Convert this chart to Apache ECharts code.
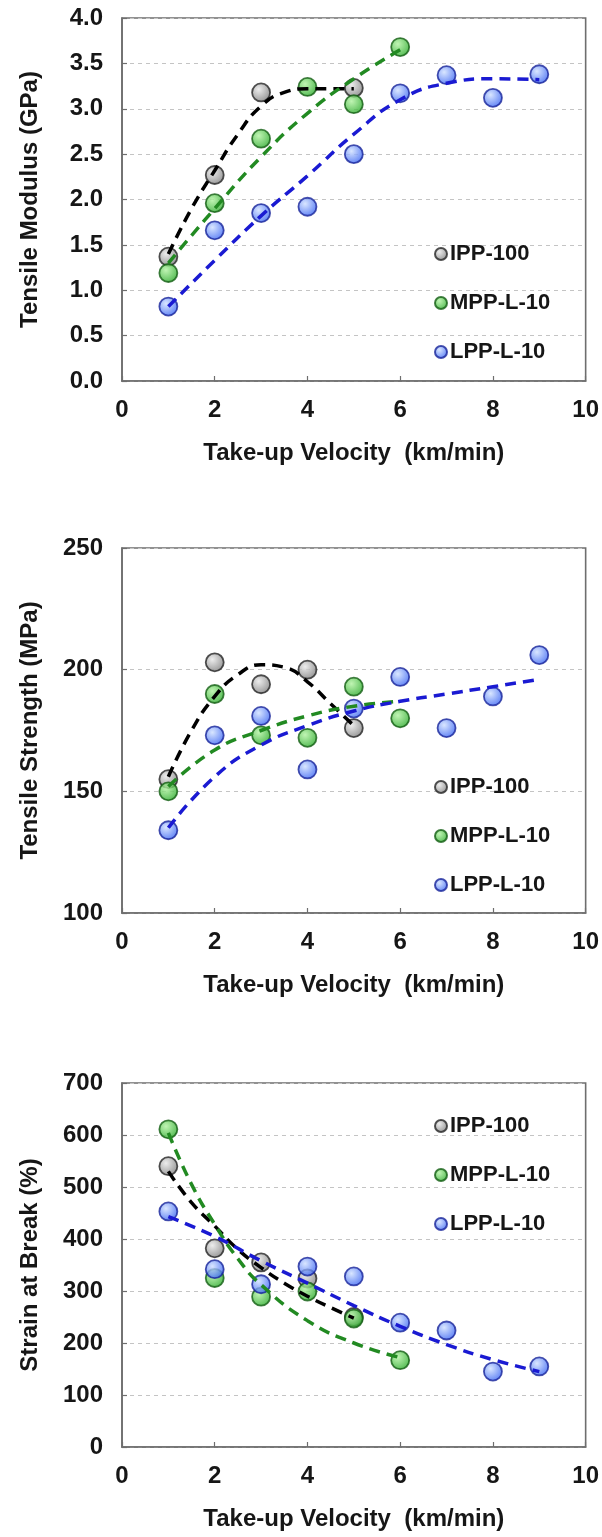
<!DOCTYPE html>
<html>
<head>
<meta charset="utf-8">
<script src="https://cdn.jsdelivr.net/npm/echarts@6/dist/echarts.min.js"></script>
<style>
html,body{margin:0;padding:0;background:#fff;}
#c{width:602px;height:1537px;}
</style>
</head>
<body>
<div id="c"></div>
<script>
// ---------- data ----------
const seriesNames = ['IPP-100', 'MPP-L-10', 'LPP-L-10'];
const xTicks = [0, 2, 4, 6, 8, 10];

// Panel 1: Tensile Modulus (GPa)
const velIPP_mod = [1, 2, 3, 5];
const modIPP = [1.37, 2.27, 3.18, 3.23];
const velMPP_mod = [1, 2, 3, 4, 5, 6];
const modMPP = [1.19, 1.96, 2.67, 3.24, 3.05, 3.68];
const velLPP_mod = [1, 2, 3, 4, 5, 6, 7, 8, 9];
const modLPP = [0.82, 1.66, 1.85, 1.92, 2.50, 3.17, 3.37, 3.12, 3.38];
// dashed trend lines
const trendModIPP_x = [1, 1.5, 2, 2.5, 3, 3.5, 4, 4.5, 5];
const trendModIPP_y = [1.40, 1.90, 2.32, 2.72, 3.03, 3.18, 3.22, 3.22, 3.22];
const trendModMPP_x = [1, 2, 3, 4, 5, 6];
const trendModMPP_y = [1.30, 1.90, 2.47, 2.95, 3.33, 3.65];
const trendModLPP_x = [1, 2, 3, 4, 5, 6, 7, 8, 9];
const trendModLPP_y = [0.82, 1.33, 1.82, 2.26, 2.72, 3.10, 3.28, 3.33, 3.32];

// Panel 2: Tensile Strength (MPa)
const velIPP_str = [1, 2, 3, 4, 5];
const strIPP = [155, 203, 194, 200, 176];
const velMPP_str = [1, 2, 3, 4, 5, 6];
const strMPP = [150, 190, 173, 172, 193, 180];
const velLPP_str = [1, 2, 3, 4, 5, 6, 7, 8, 9];
const strLPP = [134, 173, 181, 159, 184, 197, 176, 189, 206];
const trendStrIPP_x = [1, 1.5, 2, 2.5, 3, 3.5, 4, 4.5, 5];
const trendStrIPP_y = [156, 175, 189, 198, 202, 201, 195, 186, 177];
const trendStrMPP_x = [1, 2, 3, 4, 5, 6];
const trendStrMPP_y = [152, 167, 175, 181, 185, 187];
const trendStrLPP_x = [1, 2, 3, 4, 5, 6, 7, 8, 9];
const trendStrLPP_y = [135, 156, 169, 177, 183, 187, 190, 193, 196];

// Panel 3: Strain at Break (%)
const velIPP_sb = [1, 2, 3, 4, 5];
const sbIPP = [540, 382, 355, 324, 250];
const velMPP_sb = [1, 2, 3, 4, 5, 6];
const sbMPP = [611, 325, 289, 299, 247, 167];
const velLPP_sb = [1, 2, 3, 4, 5, 6, 7, 8, 9];
const sbLPP = [453, 342, 313, 347, 328, 239, 224, 145, 155];
const trendSbIPP_x = [1, 1.5, 2, 2.5, 3, 3.5, 4, 4.5, 5];
const trendSbIPP_y = [530, 470, 425, 380, 345, 315, 290, 268, 248];
const trendSbMPP_x = [1, 1.5, 2, 2.5, 3, 4, 5, 6];
const trendSbMPP_y = [604, 505, 428, 362, 312, 243, 200, 172];
const trendSbLPP_x = [1, 2, 3, 4, 5, 6, 7, 8, 9];
const trendSbLPP_y = [443, 405, 358, 315, 272, 232, 197, 168, 145];

// ---------- styling ----------
const FONT = 'Arial, "Liberation Sans", sans-serif';
const markerFill = [
  {hi: '#e8e8e8', lo: '#767676', border: '#262626'},
  {hi: '#b0f2a0', lo: '#22a622', border: '#135e13'},
  {hi: '#cfe0ff', lo: '#2f5cf2', border: '#18249a'}
];
const lineColors = ['#000000', '#228a22', '#1a1ad2'];

function pairs(xs, ys) { return xs.map((x, i) => [x, ys[i]]); }
function markerStyle(k) {
  const m = markerFill[k];
  return {
    color: {type: 'radial', x: 0.38, y: 0.35, r: 0.7,
      colorStops: [{offset: 0, color: m.hi}, {offset: 1, color: m.lo}]},
    borderColor: m.border, borderWidth: 1.8
  };
}

const panels = [
  {top: 18, height: 363, min: 0, max: 4, interval: 0.5, fmt: v => v.toFixed(1),
   name: 'Tensile Modulus (GPa)', legendTop: 243,
   pts: [pairs(velIPP_mod, modIPP), pairs(velMPP_mod, modMPP), pairs(velLPP_mod, modLPP)],
   trends: [pairs(trendModIPP_x, trendModIPP_y), pairs(trendModMPP_x, trendModMPP_y), pairs(trendModLPP_x, trendModLPP_y)]},
  {top: 548, height: 365, min: 100, max: 250, interval: 50, fmt: v => String(v),
   name: 'Tensile Strength (MPa)', legendTop: 776,
   pts: [pairs(velIPP_str, strIPP), pairs(velMPP_str, strMPP), pairs(velLPP_str, strLPP)],
   trends: [pairs(trendStrIPP_x, trendStrIPP_y), pairs(trendStrMPP_x, trendStrMPP_y), pairs(trendStrLPP_x, trendStrLPP_y)]},
  {top: 1083, height: 364, min: 0, max: 700, interval: 100, fmt: v => String(v),
   name: 'Strain at Break (%)', legendTop: 1115,
   pts: [pairs(velIPP_sb, sbIPP), pairs(velMPP_sb, sbMPP), pairs(velLPP_sb, sbLPP)],
   trends: [pairs(trendSbIPP_x, trendSbIPP_y), pairs(trendSbMPP_x, trendSbMPP_y), pairs(trendSbLPP_x, trendSbLPP_y)]}
];

const grid = [], xAxis = [], yAxis = [], series = [], legend = [];
const axisColor = '#6e6e6e';
const txt = '#161616';
panels.forEach((p, i) => {
  grid.push({left: 122, width: 465, top: p.top, height: p.height, show: true,
    borderColor: axisColor, borderWidth: 1.6, backgroundColor: '#fff'});
  xAxis.push({type: 'value', gridIndex: i, min: xTicks[0], max: xTicks[xTicks.length - 1], interval: 2,
    name: 'Take-up Velocity  (km/min)', nameLocation: 'middle', nameGap: 60,
    nameTextStyle: {fontFamily: FONT, fontWeight: 'bold', fontSize: 24, color: txt},
    axisLine: {show: true, lineStyle: {color: axisColor, width: 1.6}},
    axisTick: {show: true, inside: true, length: 5, lineStyle: {color: axisColor, width: 1.2}},
    axisLabel: {fontFamily: FONT, fontWeight: 'bold', fontSize: 24, color: txt, margin: 17},
    splitLine: {show: false}});
  yAxis.push({type: 'value', gridIndex: i, min: p.min, max: p.max, interval: p.interval,
    name: p.name, nameLocation: 'middle', nameGap: 80,
    nameTextStyle: {fontFamily: FONT, fontWeight: 'bold', fontSize: 24, color: txt},
    axisLine: {show: true, lineStyle: {color: axisColor, width: 1.6}},
    axisTick: {show: true, inside: true, length: 5, lineStyle: {color: axisColor, width: 1.2}},
    axisLabel: {fontFamily: FONT, fontWeight: 'bold', fontSize: 24, color: txt, margin: 19,
      formatter: p.fmt},
    splitLine: {show: true, lineStyle: {color: '#c4c4c4', width: 1, type: [4, 4]}}});
  p.pts.forEach((d, k) => {
    series.push({type: 'scatter', name: seriesNames[k], xAxisIndex: i, yAxisIndex: i,
      data: d, symbol: 'circle', symbolSize: 18, itemStyle: markerStyle(k), z: 3});
  });
  p.trends.forEach((d, k) => {
    series.push({type: 'line', name: seriesNames[k] + ' fit', xAxisIndex: i, yAxisIndex: i,
      data: d, smooth: true, showSymbol: false, symbol: 'none',
      lineStyle: {color: lineColors[k], width: 3.5, type: [11, 7]}, z: 4});
  });
  legend.push({orient: 'vertical', left: 434, top: p.legendTop, padding: 0, itemGap: 27,
    itemWidth: 12, itemHeight: 12, icon: 'circle', data: seriesNames, selectedMode: false,
    textStyle: {fontFamily: FONT, fontWeight: 'bold', fontSize: 22, color: txt, lineHeight: 20,
      padding: [0, 0, 0, -2]}});
});

const chart = echarts.init(document.getElementById('c'), null, {renderer: 'canvas'});
chart.setOption({animation: false, backgroundColor: '#fff', grid, xAxis, yAxis, series, legend});
</script>
</body>
</html>
